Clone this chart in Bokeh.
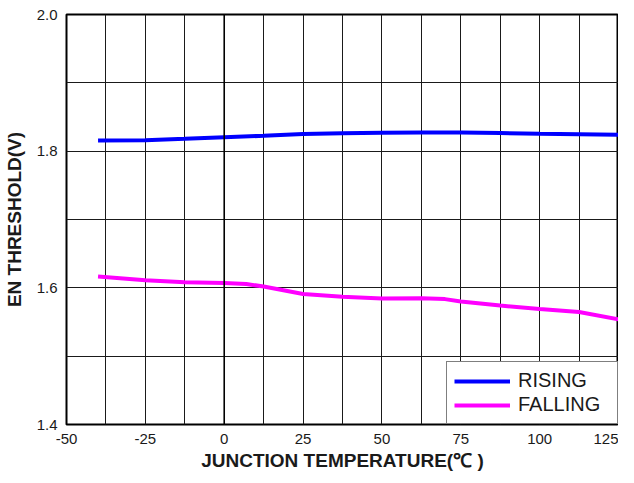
from bokeh.plotting import figure
from bokeh.models import FixedTicker, Span, Range1d, PrintfTickFormatter, Legend, LegendItem
from bokeh.embed import file_html
from bokeh.resources import INLINE

# Data
rise_temps = [-40, -25, -12.5, 0, 12.5, 25, 37.5, 50, 62.5, 75, 87.5, 100, 112.5, 125]
rising = [1.8155, 1.816, 1.818, 1.8205, 1.8225, 1.8250, 1.8262, 1.827, 1.8273,
          1.8273, 1.8265, 1.8255, 1.8248, 1.824]
fall_temps = [-40, -25, -12.5, 0, 7, 12.5, 25, 37.5, 50, 62.5, 70, 75, 87.5, 100, 112.5, 125]
falling = [1.6165, 1.611, 1.608, 1.607, 1.6055, 1.602, 1.591, 1.587, 1.5845, 1.5848,
           1.5835, 1.580, 1.574, 1.569, 1.5645, 1.554]
x_ticks = [-50, -25, 0, 25, 50, 75, 100, 125]
x_minor = [-37.5, -12.5, 12.5, 37.5, 62.5, 87.5, 112.5]
y_ticks = [1.4, 1.6, 1.8, 2.0]
y_minor = [1.5, 1.7, 1.9]

FONT = "Liberation Sans"
TXT = "#1a1a1a"
GRID = "#1a1a1a"

p = figure(width=618, height=473, output_backend="svg", toolbar_location=None,
           x_range=Range1d(-50, 125), y_range=Range1d(1.4, 2.0),
           min_border_left=59, min_border_right=0, min_border_top=14, min_border_bottom=49)
p.background_fill_color = "white"
p.border_fill_color = "white"
p.outline_line_color = "black"
p.outline_line_width = 2

p.xaxis.ticker = FixedTicker(ticks=x_ticks, minor_ticks=x_minor)
p.yaxis.ticker = FixedTicker(ticks=y_ticks, minor_ticks=y_minor)
p.yaxis.formatter = PrintfTickFormatter(format="%.1f")
p.xaxis.major_label_overrides = {t: str(t) for t in x_ticks}

for ax in (p.xaxis, p.yaxis):
    ax.axis_line_color = None
    ax.major_tick_line_color = None
    ax.minor_tick_line_color = None
    ax.major_tick_out = 0
    ax.major_tick_in = 0
    ax.minor_tick_out = 0
    ax.minor_tick_in = 0
    ax.major_label_text_font = FONT
    ax.major_label_text_font_size = "15px"
    ax.major_label_text_color = TXT
    ax.axis_label_text_font = FONT
    ax.axis_label_text_font_size = "19px"
    ax.axis_label_text_font_style = "bold"
    ax.axis_label_text_color = TXT

p.xaxis.axis_label = "JUNCTION TEMPERATURE(\u2103 )"
p.yaxis.axis_label = "EN THRESHOLD(V)"
p.xaxis.major_label_standoff = 9
p.yaxis.major_label_standoff = 9
p.xaxis.axis_label_standoff = 3
p.yaxis.axis_label_standoff = 9

for g in (p.xgrid, p.ygrid):
    g.grid_line_color = GRID
    g.grid_line_width = 1
    g.minor_grid_line_color = GRID
    g.minor_grid_line_width = 1

p.add_layout(Span(location=0, dimension="height", line_color="black", line_width=1.6))

r1 = p.line(rise_temps, rising, line_color="#0000FF", line_width=4)
r2 = p.line(fall_temps, falling, line_color="#FF00FF", line_width=4)

legend = Legend(items=[LegendItem(label="RISING", renderers=[r1]),
                       LegendItem(label="FALLING", renderers=[r2])],
                location="bottom_right")
legend.margin = 0
legend.padding = 7
legend.spacing = 1
legend.glyph_width = 56
legend.glyph_height = 18
legend.label_height = 18
legend.label_width = 92
legend.label_standoff = 8
legend.label_text_font = FONT
legend.label_text_font_size = "20px"
legend.label_text_color = TXT
legend.border_line_color = "black"
legend.border_line_width = 1
legend.background_fill_color = "white"
legend.background_fill_alpha = 1.0
p.add_layout(legend)

open("out.html", "w").write(file_html(p, INLINE))
